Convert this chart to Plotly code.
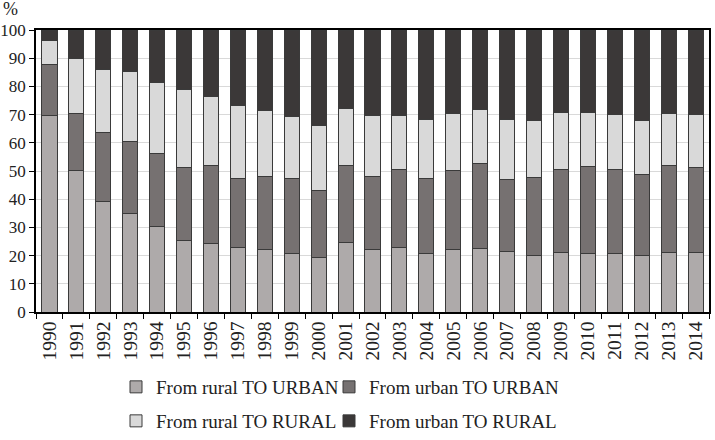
import plotly.graph_objects as go

years = [str(y) for y in range(1990, 2015)]
rural_to_urban = [69.8, 50.2, 39.2, 35.0, 30.4, 25.2, 24.4, 22.7, 22.0, 20.9, 19.5, 24.5, 22.3, 22.9, 20.9, 22.2, 22.6, 21.5, 20.1, 21.2, 20.9, 20.6, 20.0, 21.2, 21.2]
urban_to_urban = [18.1, 20.2, 24.3, 25.3, 25.7, 26.1, 27.6, 24.7, 25.9, 26.6, 23.7, 27.6, 25.9, 27.5, 26.3, 27.9, 30.0, 25.4, 27.7, 29.2, 30.6, 30.1, 28.6, 30.9, 30.0]
rural_to_rural = [8.3, 19.4, 22.6, 25.0, 25.3, 27.7, 24.5, 25.8, 23.6, 21.8, 23.0, 19.9, 21.4, 19.2, 20.9, 20.2, 19.3, 21.4, 20.0, 20.3, 19.3, 19.2, 19.4, 18.4, 18.9]
urban_to_rural = [3.8, 10.2, 13.9, 14.7, 18.6, 21.0, 23.5, 26.8, 28.5, 30.7, 33.8, 28.0, 30.4, 30.4, 31.9, 29.7, 28.1, 31.7, 32.2, 29.3, 29.2, 30.1, 32.0, 29.5, 29.9]
y_ticks = list(range(0, 101, 10))

series = [
    ("From rural TO URBAN", rural_to_urban, "#AEAAAA", "legend"),
    ("From urban TO URBAN", urban_to_urban, "#767171", "legend2"),
    ("From rural TO RURAL", rural_to_rural, "#D9D9D9", "legend3"),
    ("From urban TO RURAL", urban_to_rural, "#3B3838", "legend4"),
]

FONT = "Liberation Serif"

fig = go.Figure()
for name, vals, color, lg in series:
    fig.add_trace(go.Bar(
        x=years, y=vals, name=name, legend=lg,
        marker=dict(color=color, line=dict(color="#3a3a3a", width=1)),
    ))

legend_common = dict(
    orientation="h", xanchor="left", yanchor="middle",
    xref="container", yref="container",
    font=dict(family=FONT, size=19, color="#222"),
    bgcolor="rgba(0,0,0,0)", itemwidth=30,
)

# container coordinates (fractions of 715 x 440)
row1, row2 = 1 - 387 / 440, 1 - 421 / 440
col1, col2 = 116 / 715, 329 / 715

fig.update_layout(
    width=715, height=440,
    template="none",
    barmode="stack", bargap=0.44,
    paper_bgcolor="white", plot_bgcolor="white",
    margin=dict(l=36, r=6, t=30, b=128),
    font=dict(family=FONT, size=18, color="#222"),
    showlegend=True,
    legend=dict(x=col1, y=row1, **legend_common),
    legend2=dict(x=col2, y=row1, **legend_common),
    legend3=dict(x=col1, y=row2, **legend_common),
    legend4=dict(x=col2, y=row2, **legend_common),
    xaxis=dict(
        type="category", tickangle=-90, ticks="outside", ticklen=5,
        tickson="boundaries", tickcolor="black",
        showline=True, linecolor="black", linewidth=1.5, mirror=True,
        showgrid=False, automargin=False,
        tickfont=dict(family=FONT, size=19.5, color="#222"),
    ),
    yaxis=dict(
        range=[0, 100], tickvals=y_ticks, ticks="outside", ticklen=5,
        tickcolor="black",
        showline=True, linecolor="black", linewidth=1.5, mirror=True,
        showgrid=True, gridcolor="#D9D9D9", gridwidth=1,
        zeroline=False, automargin=False,
        tickfont=dict(family=FONT, size=17, color="#222"),
    ),
    annotations=[dict(
        text="%", xref="paper", yref="paper", x=-0.052, y=1.0745,
        xanchor="left", yanchor="middle", showarrow=False,
        font=dict(family=FONT, size=18, color="#222"),
    )],
)

fig.write_html("out.html")
